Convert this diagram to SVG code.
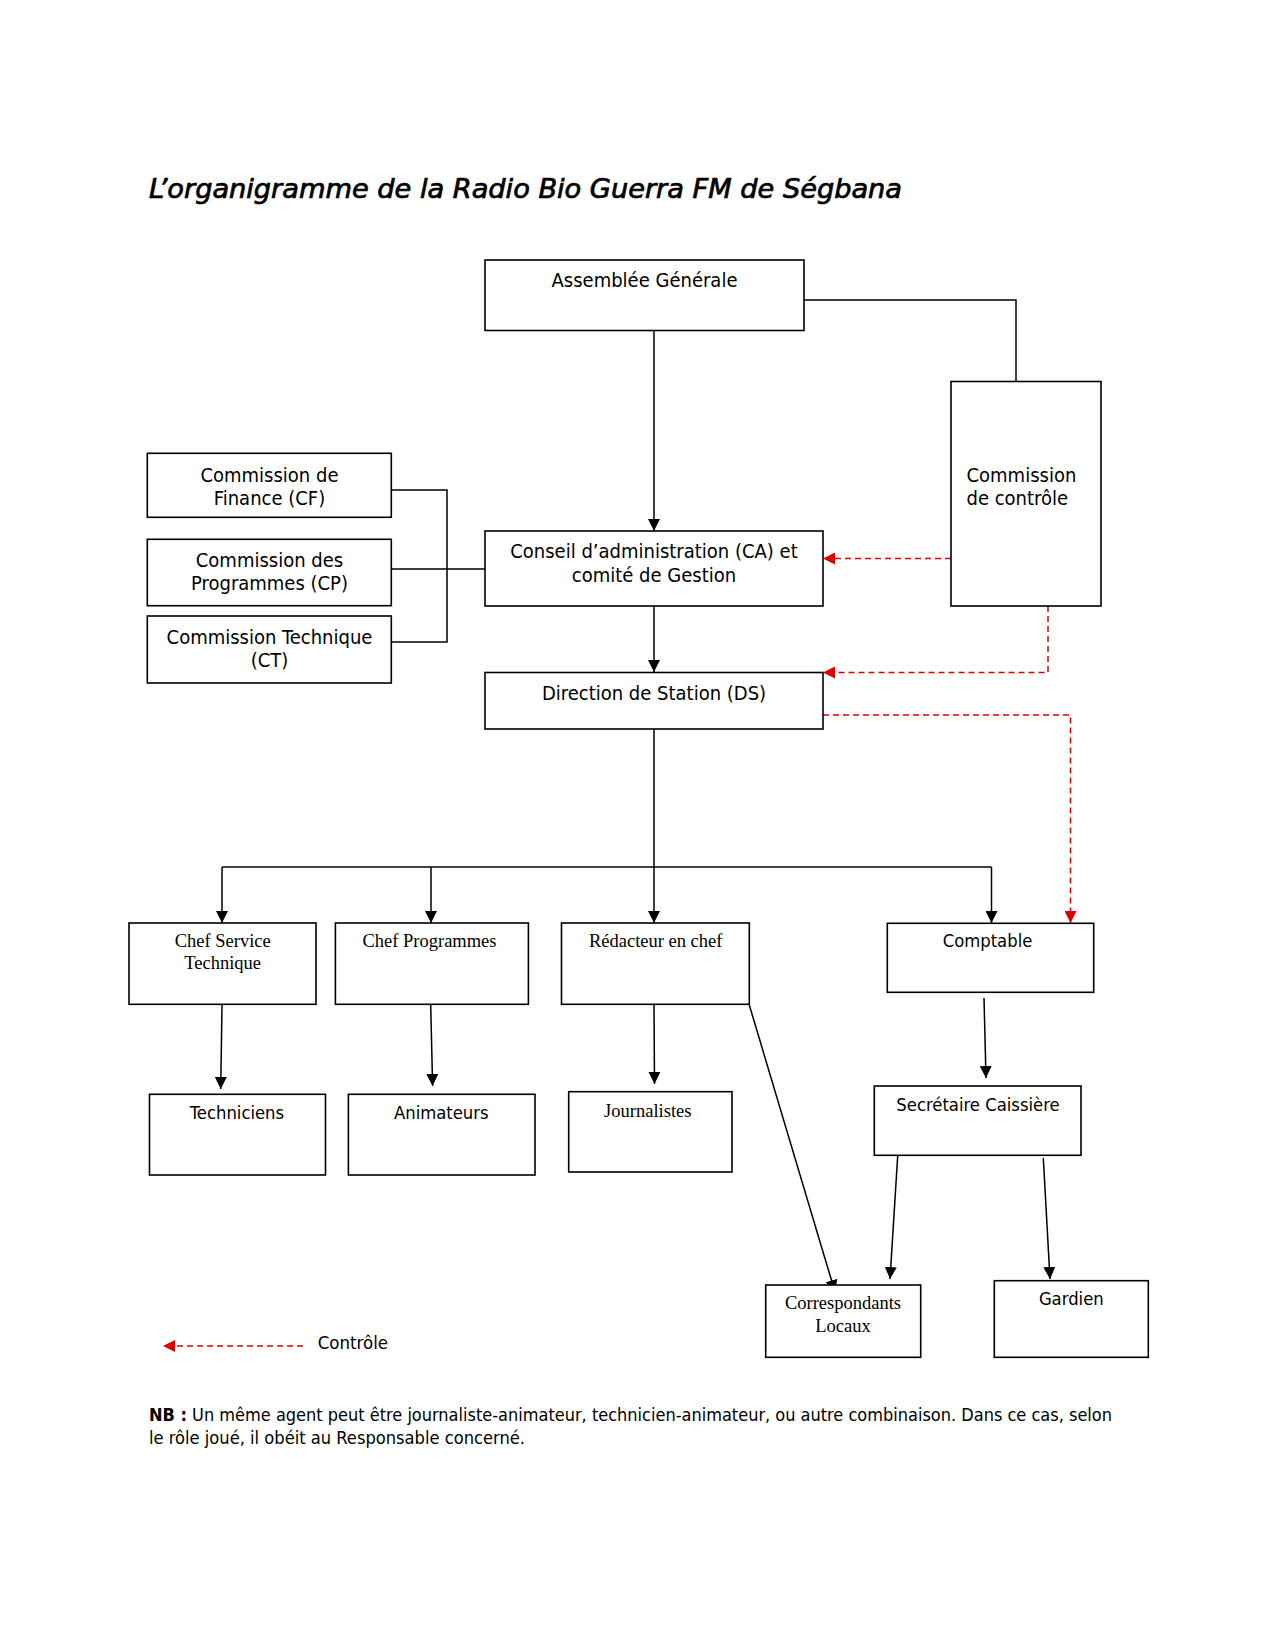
<svg xmlns="http://www.w3.org/2000/svg" width="1275" height="1650" viewBox="0 0 1275 1650">
<style>
.box{fill:#fff;stroke:#000;stroke-width:1.6}
.sans{font-family:'DejaVu Sans Condensed','DejaVu Sans',sans-serif;font-stretch:condensed;fill:#000}
.serif{font-family:'Liberation Serif','Times New Roman',serif;fill:#000;font-size:18.5px}
.big{font-size:20px}
.small{font-size:18.3px}
.ln{fill:none;stroke:#000;stroke-width:1.5}
.arr{fill:none;stroke:#000;stroke-width:1.5;marker-end:url(#ah)}
.red{fill:none;stroke:#e00000;stroke-width:1.5;stroke-dasharray:6 4;marker-end:url(#rh)}
</style>
<defs>
<marker id="ah" viewBox="0 0 12 12" refX="12" refY="6" markerWidth="12" markerHeight="12" markerUnits="userSpaceOnUse" orient="auto">
<path d="M0,0 L12,6 L0,12 z" fill="#000"/>
</marker>
<marker id="rh" viewBox="0 0 12 12" refX="12" refY="6" markerWidth="12" markerHeight="12" markerUnits="userSpaceOnUse" orient="auto">
<path d="M0,0 L12,6 L0,12 z" fill="#e00000"/>
</marker>
</defs>
<rect width="1275" height="1650" fill="#fff"/>

<text class="sans" x="149" y="198" font-size="27" font-style="italic" stroke="#000" stroke-width="0.7" textLength="753" lengthAdjust="spacingAndGlyphs">L’organigramme de la Radio Bio Guerra FM de Ségbana</text>

<g id="connectors">
<path class="arr" d="M654,330 L654,531"/>
<path class="ln" d="M804,300 L1016,300 L1016,381"/>
<path class="ln" d="M391,490 L447,490 L447,642 L391,642"/>
<path class="ln" d="M391,569 L485,569"/>
<path class="red" d="M951,558.5 L823,558.5"/>
<path class="arr" d="M654,606 L654,672"/>
<path class="red" d="M1048,606 L1048,672.5 L823,672.5"/>
<path class="red" d="M823,715 L1070.5,715 L1070.5,923"/>
<path class="arr" d="M654,729 L654,923"/>
<path class="ln" d="M222,867 L991.5,867"/>
<path class="arr" d="M222,867 L222,923"/>
<path class="arr" d="M431,867 L431,923"/>
<path class="arr" d="M991.5,867 L991.5,923"/>
<path class="arr" d="M222,1005 L220.7,1089"/>
<path class="arr" d="M430.7,1005 L432.6,1086"/>
<path class="arr" d="M654,1005 L654.5,1084"/>
<path class="arr" d="M749.3,1005 L835,1292"/>
<path class="arr" d="M984,998 L986,1078"/>
<path class="arr" d="M897.7,1156 L890,1279"/>
<path class="arr" d="M1043.3,1158 L1050,1279"/>
</g>

<g id="ag">
<rect class="box" x="485" y="260" width="319" height="70.5"/>
<text class="sans big" x="644.5" y="287" text-anchor="middle">Assemblée Générale</text>
</g>
<g id="cc">
<rect class="box" x="951" y="381.5" width="150" height="224.5"/>
<text class="sans big" x="966.5" y="482">Commission</text>
<text class="sans big" x="966.5" y="505">de contrôle</text>
</g>
<g id="cf">
<rect class="box" x="147.3" y="453.3" width="244" height="64"/>
<text class="sans big" x="269.5" y="481.5" text-anchor="middle">Commission de</text>
<text class="sans big" x="269.5" y="505" text-anchor="middle">Finance (CF)</text>
</g>
<g id="cp">
<rect class="box" x="147.3" y="539.3" width="244" height="66.4"/>
<text class="sans big" x="269.5" y="566.5" text-anchor="middle">Commission des</text>
<text class="sans big" x="269.5" y="589.5" text-anchor="middle">Programmes (CP)</text>
</g>
<g id="ct">
<rect class="box" x="147.3" y="616" width="244" height="67"/>
<text class="sans big" x="269.5" y="644" text-anchor="middle">Commission Technique</text>
<text class="sans big" x="269.5" y="667" text-anchor="middle">(CT)</text>
</g>
<g id="ca">
<rect class="box" x="485" y="531" width="338" height="75"/>
<text class="sans big" x="654" y="558" text-anchor="middle">Conseil d’administration (CA) et</text>
<text class="sans big" x="654" y="582" text-anchor="middle">comité de Gestion</text>
</g>
<g id="ds">
<rect class="box" x="485" y="672.5" width="338" height="56.5"/>
<text class="sans big" x="654" y="700" text-anchor="middle">Direction de Station (DS)</text>
</g>
<g id="cst">
<rect class="box" x="129" y="923" width="187" height="81.3"/>
<text class="serif" x="222.7" y="947.3" text-anchor="middle">Chef Service</text>
<text class="serif" x="222.7" y="968.5" text-anchor="middle">Technique</text>
</g>
<g id="chp">
<rect class="box" x="335.4" y="923" width="193" height="81.3"/>
<text class="serif" x="429.5" y="947.3" text-anchor="middle">Chef Programmes</text>
</g>
<g id="rc">
<rect class="box" x="561.5" y="923" width="187.8" height="81.3"/>
<text class="serif" x="655.7" y="947.3" text-anchor="middle">Rédacteur en chef</text>
</g>
<g id="compta">
<rect class="box" x="887.3" y="923.3" width="206.4" height="69"/>
<text class="sans small" x="987.5" y="947.3" text-anchor="middle">Comptable</text>
</g>
<g id="tech">
<rect class="box" x="149.5" y="1094.3" width="176" height="80.7"/>
<text class="sans small" x="237" y="1119.3" text-anchor="middle">Techniciens</text>
</g>
<g id="anim">
<rect class="box" x="348.4" y="1094.3" width="186.6" height="80.7"/>
<text class="sans small" x="441.3" y="1119.3" text-anchor="middle">Animateurs</text>
</g>
<g id="journ">
<rect class="box" x="568.7" y="1091.7" width="163.3" height="80.3"/>
<text class="serif" x="647.8" y="1116.7" text-anchor="middle">Journalistes</text>
</g>
<g id="sec">
<rect class="box" x="874.3" y="1086" width="206.7" height="69.3"/>
<text class="sans small" x="978" y="1110.7" text-anchor="middle">Secrétaire Caissière</text>
</g>
<g id="corr">
<rect class="box" x="765.7" y="1285" width="155" height="72.3"/>
<text class="serif" x="843" y="1309.3" text-anchor="middle">Correspondants</text>
<text class="serif" x="843" y="1332.3" text-anchor="middle">Locaux</text>
</g>
<g id="gard">
<rect class="box" x="994.3" y="1280.7" width="154" height="76.6"/>
<text class="sans small" x="1071.3" y="1305" text-anchor="middle">Gardien</text>
</g>

<g id="legend">
<path class="red" d="M303,1346 L163,1346"/>
<text class="sans" x="317.7" y="1349.3" font-size="18.5">Contrôle</text>
</g>

<g id="note">
<text class="sans" x="149" y="1421" font-size="17.5" textLength="963" lengthAdjust="spacingAndGlyphs"><tspan font-weight="bold">NB :</tspan> Un même agent peut être journaliste-animateur, technicien-animateur, ou autre combinaison. Dans ce cas, selon</text>
<text class="sans" x="149" y="1444" font-size="17.5" textLength="376" lengthAdjust="spacingAndGlyphs">le rôle joué, il obéit au Responsable concerné.</text>
</g>
</svg>
